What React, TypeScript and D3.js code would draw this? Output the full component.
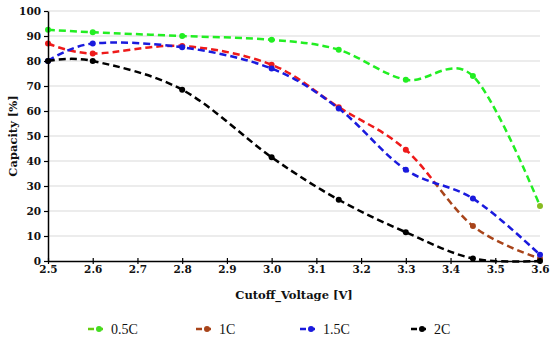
import React, { useEffect, useRef } from 'react';
import * as d3 from 'd3';

// cutoff voltages (V) where each capacity was measured
const voltages = [2.5, 2.6, 2.8, 3.0, 3.15, 3.3, 3.45, 3.6];

const cap05C = [92.5, 91.5, 90, 88.5, 84.5, 72.5, 74, 22];
const cap1C = [87, 83, 86, 78.5, 61.5, 44.5, 14, 1];
const cap15C = [80, 87, 85.5, 77, 61, 36.5, 25, 2.5];
const cap2C = [80, 80, 68.5, 41.5, 24.5, 11.5, 1, 0];

const seriesNames = ['0.5C', '1C', '1.5C', '2C'];
const seriesColors = ['#22ee22', '#ee1a1a', '#1a1add', '#000000'];
const legendColors = ['#66cc11', '#a8441a', '#1a1add', '#000000'];

const xTicks = [2.5, 2.6, 2.7, 2.8, 2.9, 3.0, 3.1, 3.2, 3.3, 3.4, 3.5, 3.6];
const yTicks = [0, 10, 20, 30, 40, 50, 60, 70, 80, 90, 100];

const W = 550;
const H = 342;

const App = () => {
  const ref = useRef<SVGSVGElement>(null);

  useEffect(() => {
    const svg = d3.select(ref.current);
    svg.selectAll('*').remove();

    const left = 48, right = 540, top = 11, bottom = 261;
    const font = "'DejaVu Serif', serif";
    const lfont = "'Liberation Serif', serif";

    const x = d3.scaleLinear().domain([2.5, 3.6]).range([left, right]);
    const y = d3.scaleLinear().domain([0, 100]).range([bottom, top]);

    // gridlines
    svg.append('g')
      .selectAll('line')
      .data(yTicks.filter(d => d > 0))
      .join('line')
      .attr('x1', left).attr('x2', right)
      .attr('y1', d => y(d)).attr('y2', d => y(d))
      .attr('stroke', '#d9d9d9').attr('stroke-width', 1);

    const allSeries = [cap05C, cap1C, cap15C, cap2C];
    const line = d3.line<number>()
      .x((_, i) => x(voltages[i]))
      .y(d => y(d))
      .curve(d3.curveCardinal.tension(0));

    // 1C switches from red to brown past ~3.36 V
    const defs = svg.append('defs');
    defs.append('clipPath').attr('id', 'clipA')
      .append('rect').attr('x', 0).attr('y', 0).attr('width', x(3.365)).attr('height', H);
    defs.append('clipPath').attr('id', 'clipB')
      .append('rect').attr('x', x(3.365)).attr('y', 0).attr('width', W).attr('height', H);

    allSeries.forEach((data, si) => {
      const g = svg.append('g');
      if (si === 1) {
        g.append('path').attr('d', line(data)).attr('fill', 'none')
          .attr('stroke', seriesColors[1]).attr('stroke-width', 2.5)
          .attr('stroke-dasharray', '7,4').attr('clip-path', 'url(#clipA)');
        g.append('path').attr('d', line(data)).attr('fill', 'none')
          .attr('stroke', legendColors[1]).attr('stroke-width', 2.5)
          .attr('stroke-dasharray', '7,4').attr('clip-path', 'url(#clipB)');
      } else {
        g.append('path').attr('d', line(data)).attr('fill', 'none')
          .attr('stroke', seriesColors[si]).attr('stroke-width', 2.5)
          .attr('stroke-dasharray', '7,4');
      }
      g.selectAll('circle')
        .data(data)
        .join('circle')
        .attr('cx', (_, i) => x(voltages[i]))
        .attr('cy', d => y(d))
        .attr('r', 3)
        .attr('fill', (_, i) => (si === 1 && voltages[i] > 3.36) ? legendColors[1]
          : (si === 0 && i === voltages.length - 1) ? '#88bb22' : seriesColors[si]);
    });

    // axes
    const yAxis = svg.append('g')
      .attr('transform', `translate(${left},0)`)
      .call(d3.axisLeft(y).tickValues(yTicks).tickSize(4).tickSizeOuter(0).tickPadding(3));
    yAxis.select('.domain').attr('stroke', '#000').attr('stroke-width', 1.5);
    yAxis.selectAll('.tick line').attr('stroke', '#000').attr('stroke-width', 1.2);
    yAxis.selectAll('text')
      .style('font-family', font).style('font-weight', 'bold').style('font-size', '10.5px').attr('fill', '#111');

    const xAxis = svg.append('g')
      .attr('transform', `translate(0,${bottom})`)
      .call(d3.axisBottom(x).tickValues(xTicks).tickFormat(d3.format('.1f')).tickSize(3).tickSizeOuter(0).tickPadding(2));
    xAxis.select('.domain').attr('stroke', '#000').attr('stroke-width', 1.5);
    xAxis.selectAll('.tick line').attr('stroke', '#000').attr('stroke-width', 1.2).attr('y1', -3);
    xAxis.selectAll('text')
      .style('font-family', font).style('font-weight', 'bold').style('font-size', '10.5px').attr('fill', '#111');

    // axis titles
    svg.append('text')
      .attr('x', 294).attr('y', 299)
      .attr('text-anchor', 'middle')
      .style('font-family', font).style('font-weight', 'bold').style('font-size', '11.5px')
      .attr('fill', '#111')
      .text('Cutoff_Voltage [V]');

    svg.append('text')
      .attr('transform', `translate(17,${(top + bottom) / 2}) rotate(-90)`)
      .attr('text-anchor', 'middle')
      .style('font-family', font).style('font-weight', 'bold').style('font-size', '11.5px')
      .attr('fill', '#111')
      .text('Capacity [%]');

    // legend
    const legendX = [88, 196, 300, 411];
    const legend = svg.append('g').attr('transform', 'translate(0,329)');
    seriesNames.forEach((name, i) => {
      const lg = legend.append('g').attr('transform', `translate(${legendX[i]},0)`);
      lg.append('line').attr('x1', 0).attr('x2', 18).attr('y1', 0).attr('y2', 0)
        .attr('stroke', legendColors[i]).attr('stroke-width', 2.5).attr('stroke-dasharray', '6,3');
      lg.append('circle').attr('cx', 11).attr('cy', 0).attr('r', 3)
        .attr('fill', i === 0 ? '#44dd22' : legendColors[i]);
      lg.append('text').attr('x', 23).attr('y', 4.5)
        .style('font-family', lfont).style('font-size', '14px').attr('fill', '#111')
        .text(name);
    });
  }, []);

  return (
    <svg ref={ref} width={W} height={H} style={{ position: 'absolute', left: 0, top: 0, background: '#fff' }} />
  );
};

export default App;
